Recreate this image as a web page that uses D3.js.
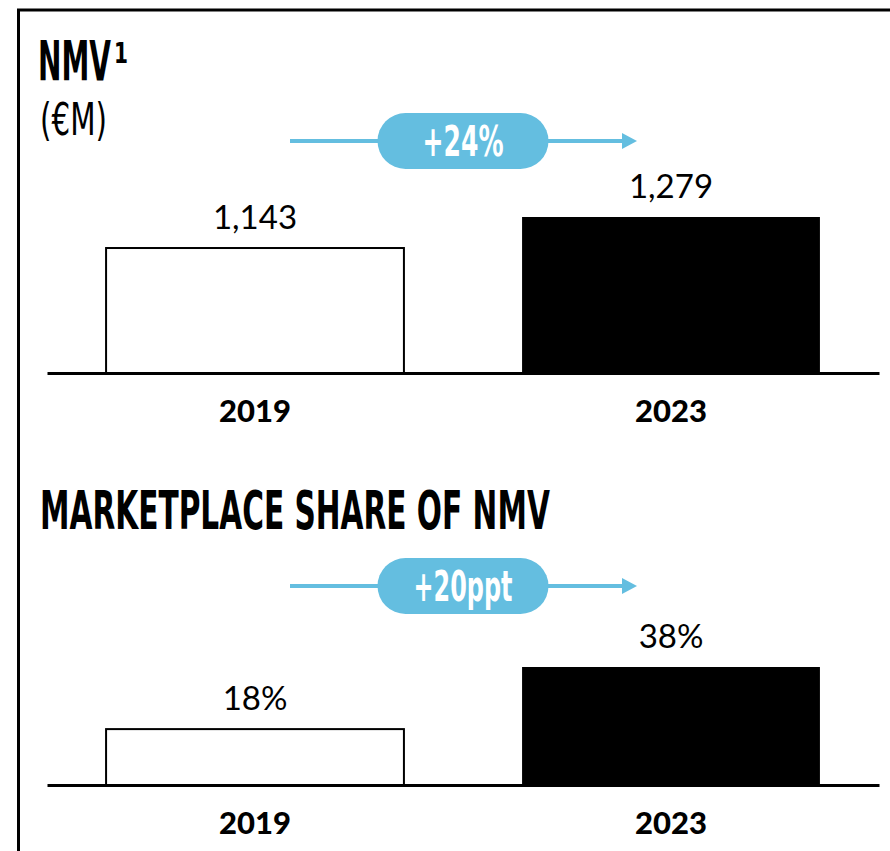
<!DOCTYPE html>
<html>
<head>
<meta charset="utf-8">
<script src="https://cdn.jsdelivr.net/npm/d3@7"></script>
<style>
  html, body { margin: 0; padding: 0; background: #fff; }
  svg { display: block; }
  .cond { font-family: "Liberation Sans Narrow", "DejaVu Sans Condensed", "DejaVu Sans", sans-serif; font-stretch: condensed; }
  .num { font-family: Lato, "Noto Sans", sans-serif; }
</style>
</head>
<body>
<div id="chart"></div>
<script>
// Données
const years = ["2019", "2023"];
const nmvValues = [1143, 1279];
const shareValues = [18, 38];
const growthLabels = ["+24%", "+20ppt"];

const width = 890;
const height = 851;
const blue = "#64bee0";

const svg = d3.select("#chart").append("svg")
  .attr("width", width)
  .attr("height", height);

// Texte étroit : on compresse horizontalement pour atteindre la largeur voulue
function condText(parent, str, x0, y0, size, targetW, opts = {}) {
  const g = parent.append("g");
  const t = g.append("text").attr("class", "cond")
    .attr("font-size", size)
    .attr("font-weight", opts.weight || "bold")
    .attr("fill", opts.fill || "#000")
    .attr("text-anchor", opts.anchor || "start")
    .text(str);
  const w = t.node().getComputedTextLength();
  g.attr("transform", `translate(${x0},${y0}) scale(${targetW / w},1)`);
  return t;
}

// Cadre (coin haut-gauche seulement visible)
svg.append("path")
  .attr("d", `M18.5,${height} V10 H${width}`)
  .attr("fill", "none")
  .attr("stroke", "#000")
  .attr("stroke-width", 3);

// Échelle horizontale commune
const x = d3.scaleBand()
  .domain(years)
  .range([47, 879])
  .paddingInner(0.284)
  .paddingOuter(0.142);

const fmt = d3.format(",");

// Titres
condText(svg, "NMV", 38, 80, 55, 73);
condText(svg, "1", 114, 63, 29, 14);
condText(svg, "(€M)", 40, 135, 44, 67, { weight: "normal" });
condText(svg, "MARKETPLACE SHARE OF NMV", 40, 529, 53, 510);

// Dessiner un panneau de barres
function drawPanel(values, y, baseline, format, growth, arrowY, textW) {
  const g = svg.append("g");

  g.selectAll("rect.bar")
    .data(values)
    .join("rect")
    .attr("class", "bar")
    .attr("x", (d, i) => x(years[i]))
    .attr("y", d => y(d))
    .attr("width", x.bandwidth())
    .attr("height", d => baseline - y(d))
    .attr("fill", (d, i) => i === 0 ? "#fff" : "#000")
    .attr("stroke", "#000")
    .attr("stroke-width", (d, i) => i === 0 ? 2 : 0);

  // Axe
  const axis = g.append("g")
    .attr("transform", `translate(0,${baseline})`)
    .call(d3.axisBottom(x).tickSize(0).tickSizeOuter(0));
  axis.select(".domain").attr("stroke", "#000").attr("stroke-width", 3);
  axis.selectAll("text")
    .attr("class", "num")
    .attr("dy", null)
    .attr("y", 49)
    .attr("font-size", 31)
    .attr("font-weight", 900)
    .attr("fill", "#000");

  // Valeurs
  g.selectAll("text.val")
    .data(values)
    .join("text")
    .attr("class", "val num")
    .attr("x", (d, i) => x(years[i]) + x.bandwidth() / 2)
    .attr("y", d => y(d) - 19)
    .attr("text-anchor", "middle")
    .attr("font-size", 33)
    .attr("fill", "#000")
    .text(format);

  // Flèche de croissance
  const cx = (x(years[0]) + x(years[1]) + x.bandwidth()) / 2;
  g.append("line")
    .attr("x1", cx - 173).attr("x2", cx + 160)
    .attr("y1", arrowY).attr("y2", arrowY)
    .attr("stroke", blue).attr("stroke-width", 4);
  g.append("path")
    .attr("d", `M${cx + 159},${arrowY - 8} L${cx + 174},${arrowY} L${cx + 159},${arrowY + 8} Z`)
    .attr("fill", blue);
  g.append("rect")
    .attr("x", cx - 85.5).attr("y", arrowY - 28)
    .attr("width", 171).attr("height", 56)
    .attr("rx", 28).attr("fill", blue);
  condText(g, growth, cx, arrowY + 15, 42, textW, { anchor: "middle", fill: "#fff" });
}

const y1 = d3.scaleLinear().domain([595, 1279]).range([373, 217]);
drawPanel(nmvValues, y1, 373, d => fmt(d), growthLabels[0], 141, 81);

const y2 = d3.scaleLinear().domain([0, 38]).range([785, 667]);
drawPanel(shareValues, y2, 785, d => d + "%", growthLabels[1], 586, 99);
</script>
</body>
</html>
